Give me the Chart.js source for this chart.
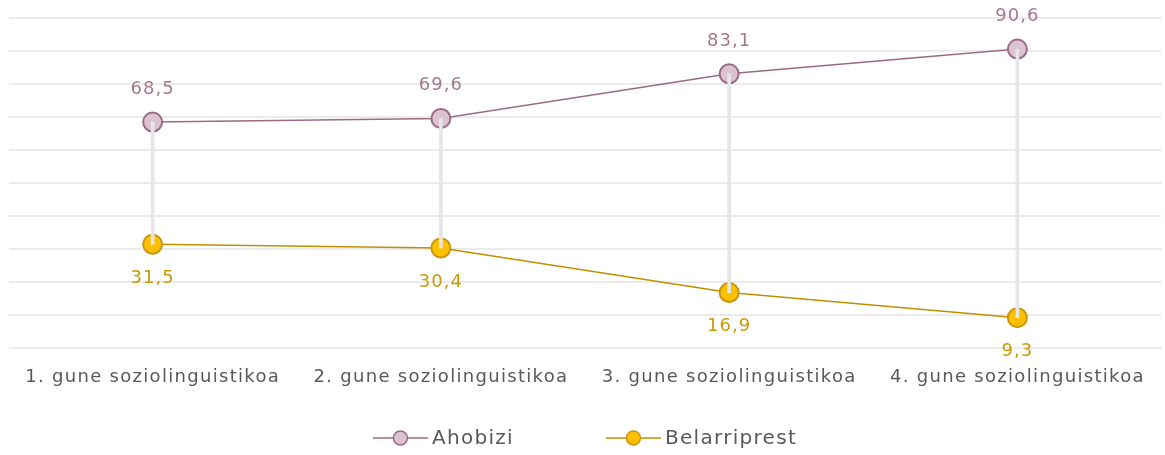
<!DOCTYPE html>
<html>
<head>
<meta charset="utf-8">
<script src="https://cdn.jsdelivr.net/npm/chart.js@4/dist/chart.umd.min.js"></script>
<style>
html,body{margin:0;padding:0;background:#fff;overflow:hidden;}
#wrap{width:1176px;height:455px;position:relative;margin-left:-3px;}
</style>
</head>
<body>
<div id="wrap"><canvas id="c"></canvas></div>
<script>
const categories = ['1. gune soziolinguistikoa','2. gune soziolinguistikoa','3. gune soziolinguistikoa','4. gune soziolinguistikoa'];
const ahobizi = [68.5, 69.6, 83.1, 90.6];
const belarriprest = [31.5, 30.4, 16.9, 9.3];
const seriesNames = ['Ahobizi','Belarriprest'];

const FONT = '"DejaVu Sans", sans-serif';
const TEXT = '#595959';
const colA = {line:'#9b6a87', fill:'#dcc3d2', border:'#9b6a87', label:'#a57890'};
const colB = {line:'#c09000', fill:'#ffc000', border:'#c8960a', label:'#c99a06'};

const spacingPlugin = {
  id:'spacing',
  beforeLayout(chart){ chart.ctx.letterSpacing = '1.3px'; },
  beforeDraw(chart){ chart.ctx.letterSpacing = '1.3px'; }
};

const labelPlugin = {
  id:'vals',
  afterDatasetsDraw(chart){
    const ctx = chart.ctx;
    ctx.save();
    ctx.letterSpacing = '1px';
    ctx.font = '18px ' + FONT;
    ctx.textAlign = 'center';
    ctx.textBaseline = 'middle';
    [[0, -33, colA.label],[1, 34, colB.label]].forEach(([di, off, c])=>{
      const meta = chart.getDatasetMeta(di);
      const data = chart.data.datasets[di].data;
      meta.data.forEach((pt,i)=>{
        ctx.fillStyle = c;
        ctx.fillText(String(data[i]).replace('.', ','), pt.x, pt.y + off);
      });
    });
    ctx.restore();
  }
};

const legendPlugin = {
  id:'customLegend',
  afterDraw(chart){
    const ctx = chart.ctx;
    ctx.save();
    ctx.letterSpacing = '1.3px';
    ctx.font = '20px ' + FONT;
    ctx.textBaseline = 'middle';
    ctx.textAlign = 'left';
    const iconW = 55, gap = 4, itemGap = 92;
    const cols = [colA, colB];
    const widths = seriesNames.map(n => ctx.measureText(n).width);
    const total = widths.reduce((s,w)=>s + iconW + gap + w, 0) + itemGap;
    let x = chart.width/2 - total/2;
    const y = 438;
    seriesNames.forEach((n,i)=>{
      const c = cols[i];
      ctx.strokeStyle = c.line; ctx.lineWidth = 1.5;
      ctx.beginPath(); ctx.moveTo(x, y); ctx.lineTo(x + iconW, y); ctx.stroke();
      ctx.beginPath(); ctx.arc(x + iconW/2, y, 7, 0, Math.PI*2);
      ctx.fillStyle = c.fill; ctx.fill();
      ctx.strokeStyle = c.border; ctx.lineWidth = 1.5; ctx.stroke();
      ctx.fillStyle = TEXT;
      ctx.fillText(n, x + iconW + gap, y + 1);
      x += iconW + gap + widths[i] + itemGap;
    });
    ctx.restore();
  }
};

new Chart(document.getElementById('c'), {
  data:{
    labels: categories,
    datasets:[
      {type:'line', label:seriesNames[0], data:ahobizi, borderColor:colA.line, backgroundColor:colA.fill,
       borderWidth:1.5, pointRadius:9.5, pointBorderWidth:2, pointBackgroundColor:colA.fill, pointBorderColor:colA.border, order:1},
      {type:'line', label:seriesNames[1], data:belarriprest, borderColor:colB.line, backgroundColor:colB.fill,
       borderWidth:1.5, pointRadius:9.5, pointBorderWidth:2, pointBackgroundColor:colB.fill, pointBorderColor:colB.border, order:1},
      {type:'bar', label:'_drop', data:ahobizi.map((v,i)=>[belarriprest[i], v]), backgroundColor:'#e6e6e6',
       barThickness:3, order:0}
    ]
  },
  options:{
    responsive:true, maintainAspectRatio:false, animation:false,
    layout:{padding:{left:8, right:3, top:18, bottom:57}},
    scales:{
      x:{offset:true, grid:{display:false}, border:{display:false},
         ticks:{color:TEXT, font:{family:FONT, size:18}, padding:10}},
      y:{min:0, max:100, grid:{color:'#ebebeb', lineWidth:2, drawTicks:false}, border:{display:false},
         ticks:{display:false, stepSize:10}}
    },
    plugins:{
      tooltip:{enabled:false},
      legend:{display:false}
    }
  },
  plugins:[spacingPlugin, labelPlugin, legendPlugin]
});
</script>
</body>
</html>
